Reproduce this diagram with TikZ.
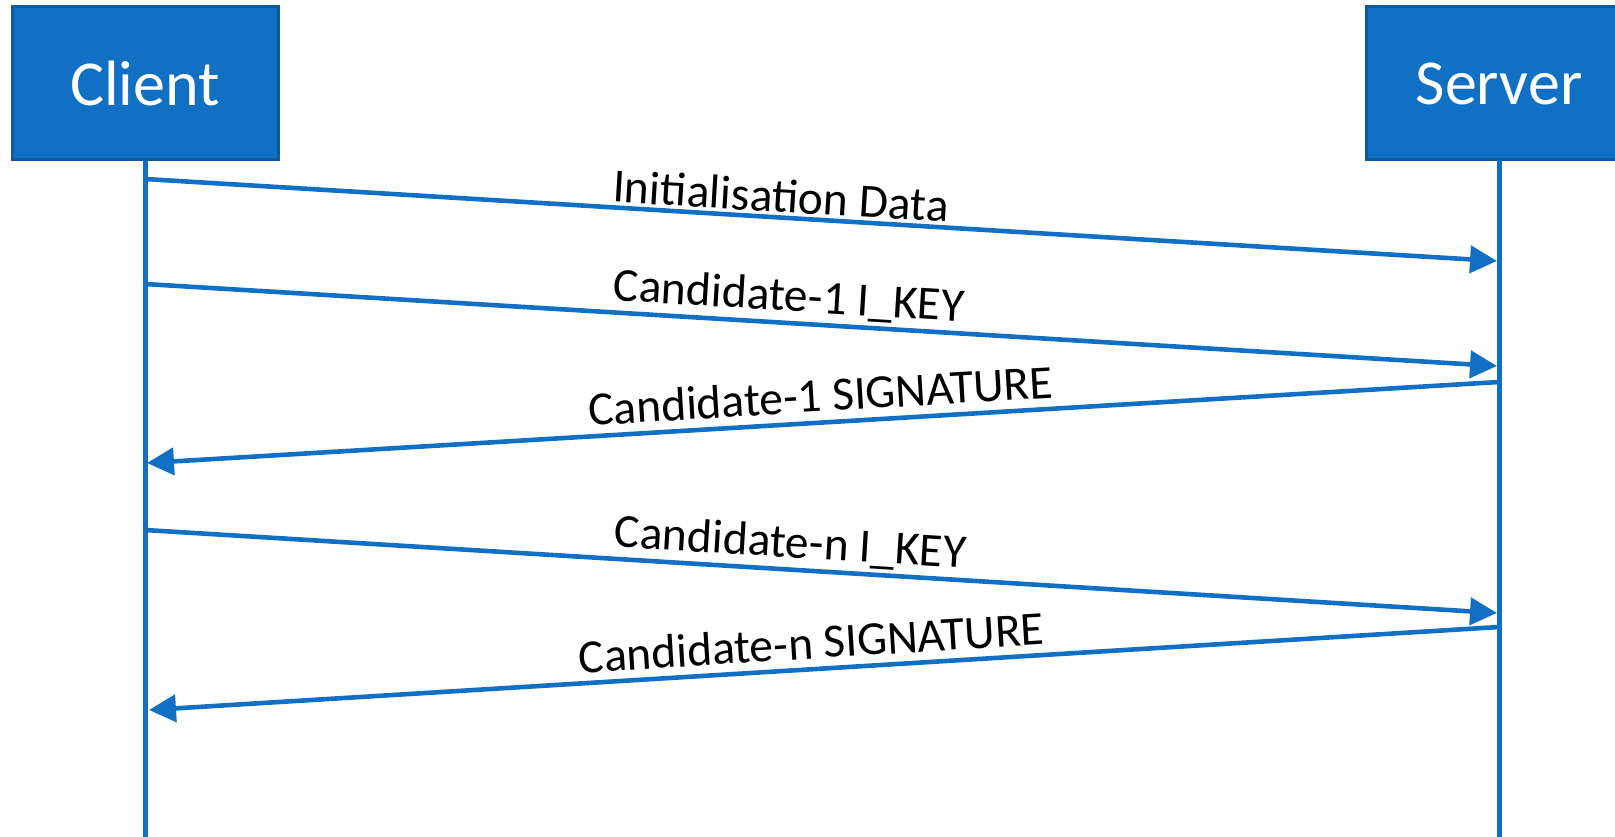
\documentclass[tikz,border=0pt]{standalone}
\usepackage{fontspec}
\setmainfont{Carlito}
\usetikzlibrary{arrows.meta}
\definecolor{msblue}{HTML}{1170C4}
\definecolor{msborder}{HTML}{0F5A9E}
\begin{document}
\begin{tikzpicture}[x=1pt,y=1pt,
  actor/.style={draw=msborder, line width=3pt, fill=msblue, text=white,
    minimum width=266pt, minimum height=153pt, inner sep=0pt,
    font=\fontsize{64}{76}\selectfont},
  life/.style={draw=msblue, line width=5pt},
  msg/.style={draw=msblue, line width=4.6pt, -{Triangle[length=27pt,width=27pt]}},
  lbl/.style={font=\fontsize{47.5}{56}\selectfont, inner sep=0pt, anchor=base, text=black}]
\useasboundingbox (0,0) rectangle (1615,-837);
\begin{scope}
\clip (0,0) rectangle (1615,-837);
\node[actor] (client) at (145,-83.5) {Client};
\node[actor] (server) at (1499,-83.5) {Server};
\end{scope}
\coordinate (cend) at (145,-837);
\coordinate (send) at (1499,-837);
\draw[life] (client.south) -- (cend);
\draw[life] (server.south) -- (send);
% message end points
\coordinate (m1s) at (145,-179);  \coordinate (m1e) at (1497,-261);
\coordinate (m2s) at (145,-284);  \coordinate (m2e) at (1497,-366);
\coordinate (m3s) at (1499,-382); \coordinate (m3e) at (147,-463);
\coordinate (m4s) at (145,-530);  \coordinate (m4e) at (1497,-613);
\coordinate (m5s) at (1499,-627); \coordinate (m5e) at (149,-710);
\draw[msg] (m1s) -- (m1e);
\draw[msg] (m2s) -- (m2e);
\draw[msg] (m3s) -- (m3e);
\draw[msg] (m4s) -- (m4e);
\draw[msg] (m5s) -- (m5e);
% labels
\node[lbl, rotate=-3.47] (l1) at (780,-212) {Initialisation Data};
\node[lbl, rotate=-3.47] (l2) at (788,-311) {Candidate-1 I\_KEY};
\node[lbl, rotate=3.43] (l3) at (821.5,-411.6) {Candidate-1 SIGNATURE};
\node[lbl, rotate=-3.51] (l4) at (789.5,-557.5) {Candidate-n I\_KEY};
\node[lbl, rotate=3.52] (l5) at (812.5,-658.7) {Candidate-n SIGNATURE};
\end{tikzpicture}
\end{document}
